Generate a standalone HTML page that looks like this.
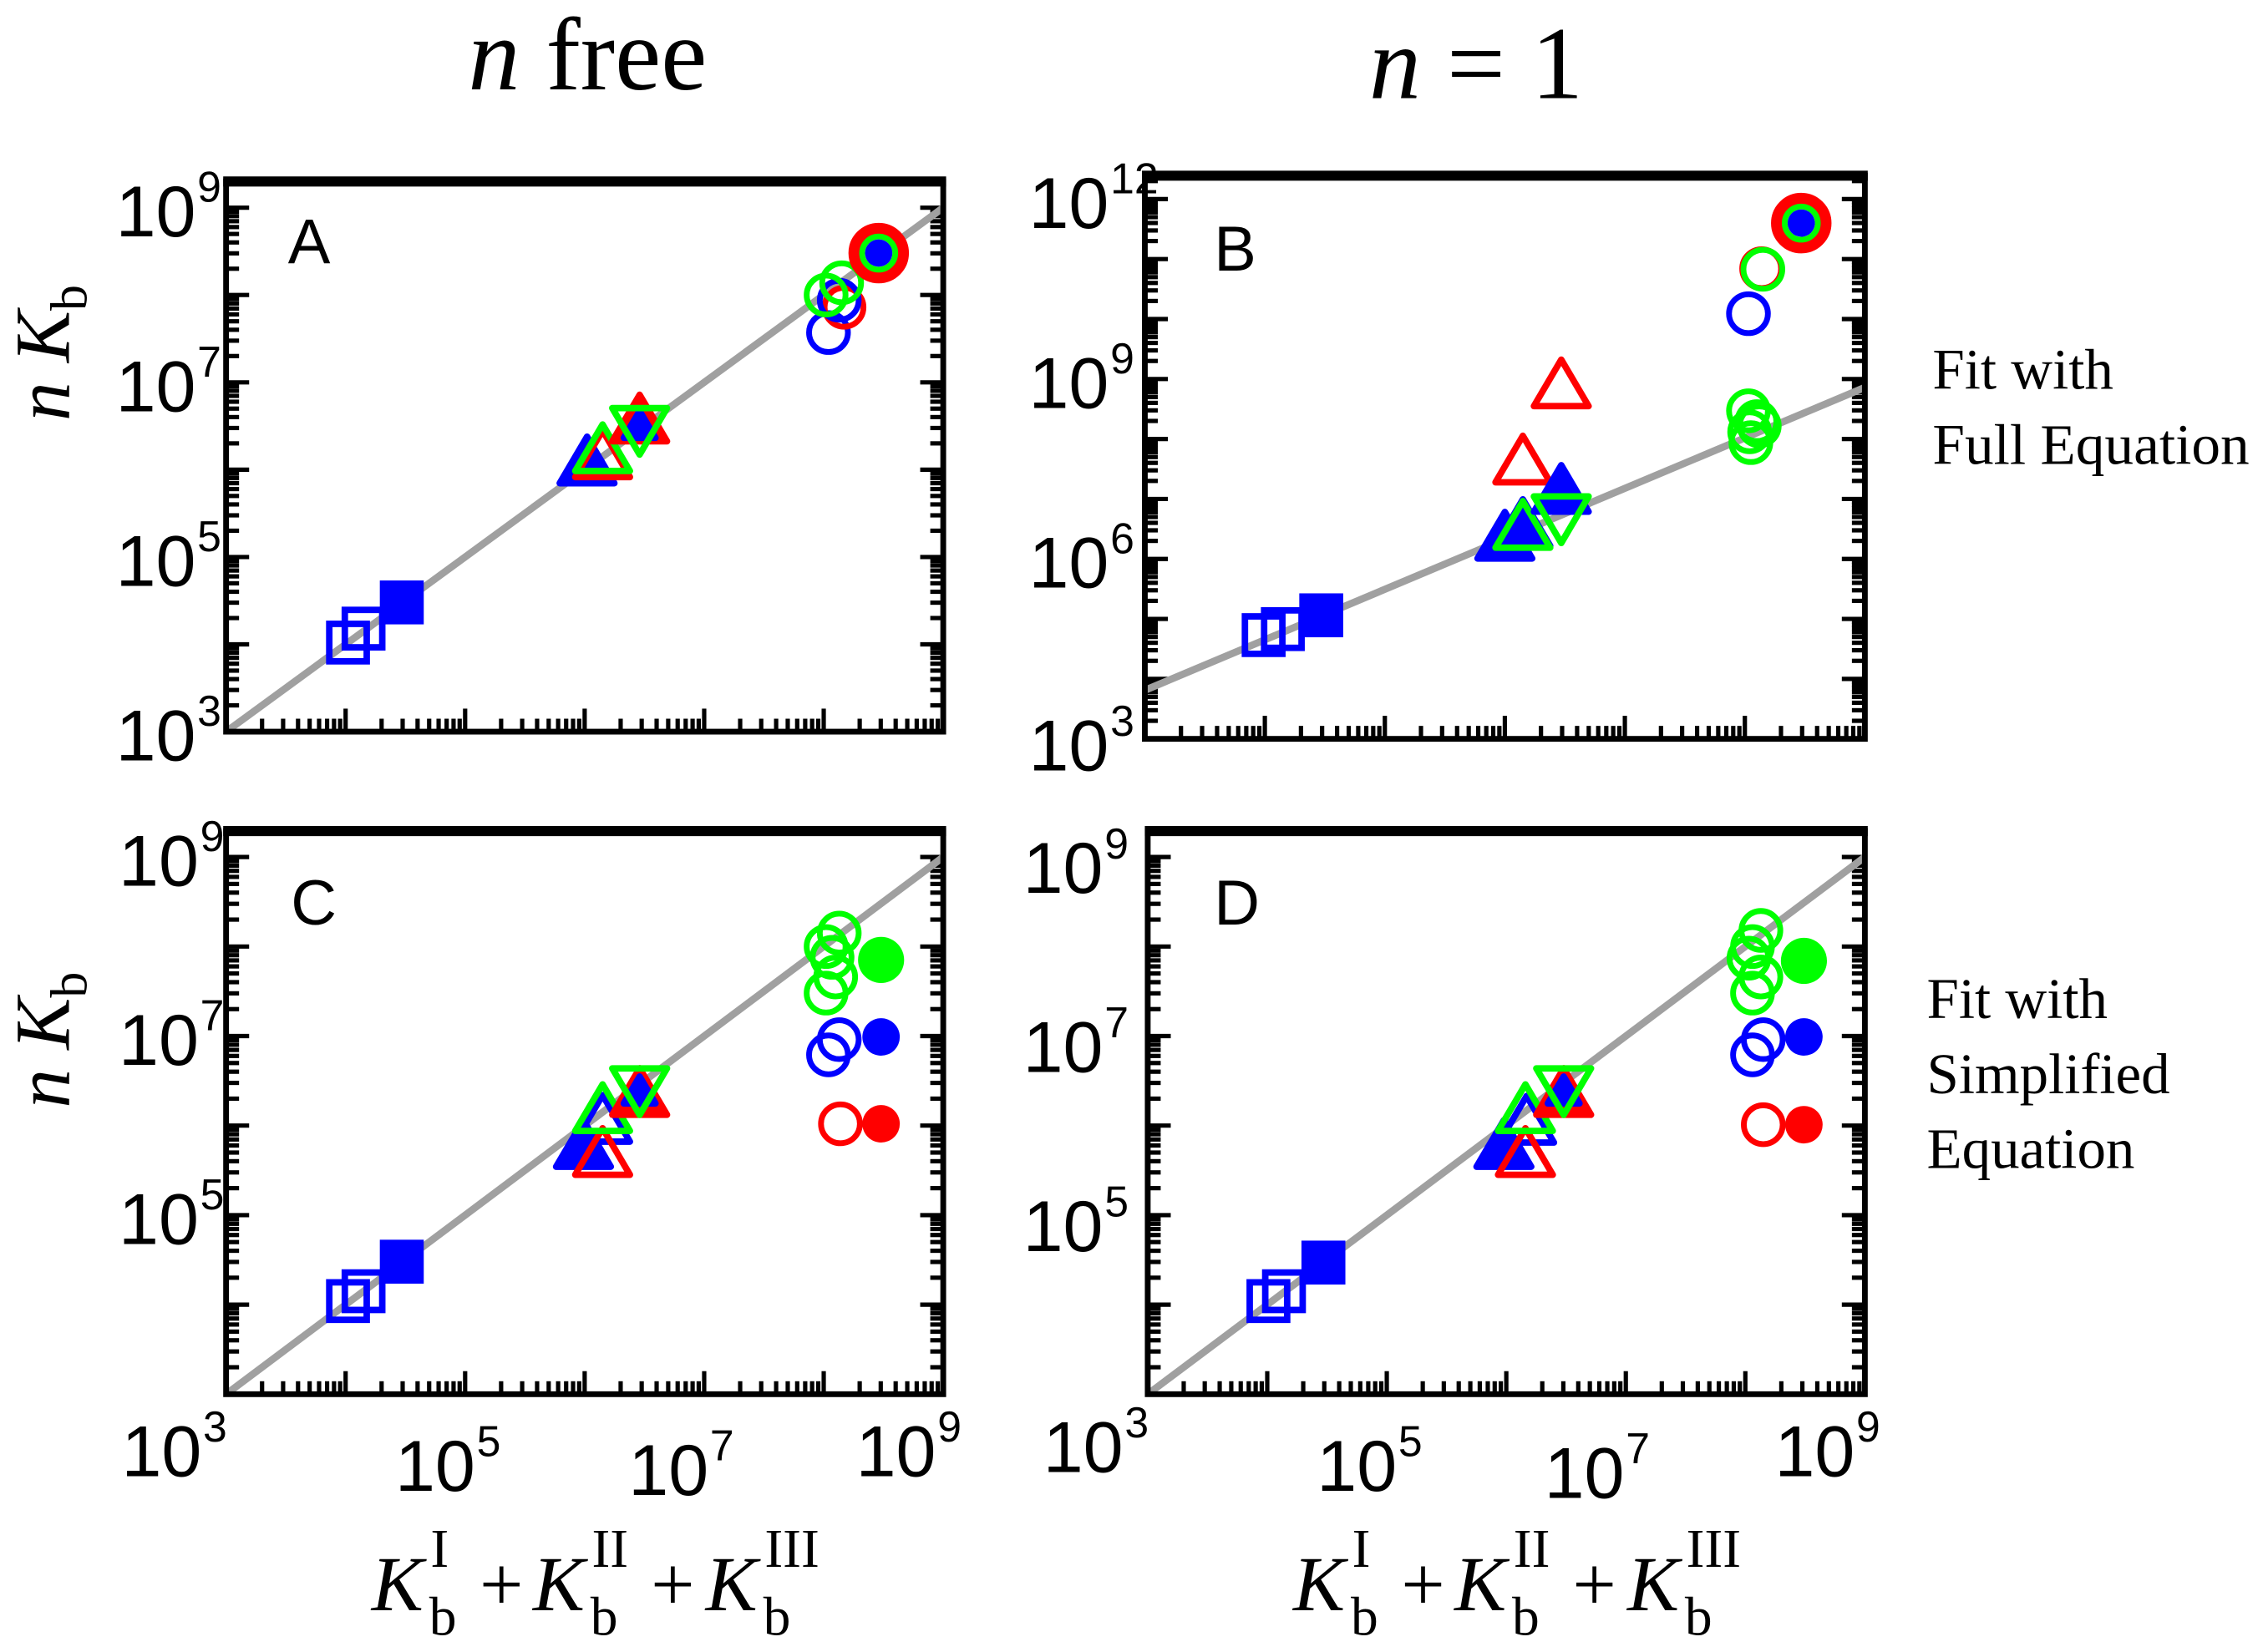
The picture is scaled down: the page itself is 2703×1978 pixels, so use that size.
<!DOCTYPE html>
<html><head><meta charset="utf-8"><style>
html,body{margin:0;padding:0;background:#fff;}
svg{display:block;}
.tk{font-family:"Liberation Sans",sans-serif;}
.sf{font-family:"Liberation Serif",serif;}
</style></head><body>
<svg id="fig" xmlns="http://www.w3.org/2000/svg" width="2703" height="1978" viewBox="0 0 1568 1147" preserveAspectRatio="none">
<rect x="0" y="0" width="1568" height="1147" fill="#fff"/>
<text class="sf" x="408" y="62" font-size="72" text-anchor="middle"><tspan font-style="italic">n</tspan> free</text>
<text class="sf" x="1025" y="68" font-size="72" text-anchor="middle"><tspan font-style="italic">n</tspan> = 1</text>
<g class="sf" font-size="40">
<text x="1342" y="270">Fit with</text>
<text x="1342" y="322" textLength="220" lengthAdjust="spacingAndGlyphs">Full Equation</text>
</g>
<g class="sf" font-size="40">
<text x="1338" y="707">Fit with</text>
<text x="1338" y="759">Simplified</text>
<text x="1338" y="811">Equation</text>
</g>
<g id="layer"></g>
</svg>
<script>
// ---- Data (log10 values) ----
const panelA_logX = [4.02,4.15,4.47, 6.02,6.15,6.15,6.46,6.46,6.46, 8.04,8.17,8.13,8.02,8.15,8.46];
const panelA_logY = [4.02,4.18,4.48, 6.08,6.15,6.22,6.56,6.50,6.47, 7.57,7.86,7.94,8.00,8.14,8.48];
const panelA_marker = ['so:b','so:b','sf:b','tf:b','to:r','to:g','tf:r','tfs:b','td:g','co:b','co:r','co:b','co:g','co:g','big'];

const panelB_logX = [3.99,4.15,4.47, 6.00,6.15,6.15,6.15,6.47,6.47,6.47, 8.03,8.14,8.15,8.03,8.10,8.04,8.12,8.05,8.47];
const panelB_logY = [4.73,4.83,5.06, 6.35,6.56,6.53,7.62,8.89,7.13,6.70, 10.09,10.84,10.83,8.47,8.29,8.12,8.22,7.94,11.6];
const panelB_marker = ['so:b','so:b','sf:b','tf:b','tf:b','to:g','to:r','to:r','tf:b','td:g','co:b','co:r','co:g','co:g','co:g','co:g','co:g','co:g','big'];

const panelC_logX = [4.02,4.15,4.47, 5.99,6.15,6.15,6.15,6.46,6.46,6.46, 8.02,8.13,8.07,8.02,8.10,8.48, 8.04,8.13,8.48, 8.14,8.48];
const panelC_logY = [4.04,4.15,4.48, 5.77,6.05,5.68,6.17,6.35,6.38,6.41, 8.00,8.15,7.88,7.48,7.66,7.85, 6.79,6.96,6.99, 6.02,6.02];
const panelC_marker = ['so:b','so:b','sf:b','tf:b','to:b','to:r','to:g','tf:r','tfs:b','td:g','co:g','co:g','co:g','co:g','co:g','cfL:g','co:b','co:b','cf:b','co:r','cf:r'];

const panelD_logX = [4.01,4.14,4.47, 5.98,6.17,6.16,6.16,6.48,6.48,6.48, 8.06,8.13,8.03,8.06,8.13,8.49, 8.06,8.15,8.49, 8.15,8.49];
const panelD_logY = [4.04,4.15,4.47, 5.77,6.04,5.68,6.17,6.35,6.38,6.41, 8.00,8.18,7.87,7.48,7.66,7.84, 6.79,6.96,6.99, 6.01,6.01];
const panelD_marker = panelC_marker.slice();

const fitA_logX = [3,9], fitA_logY = [3,9];
const fitB_logX = [3,9], fitB_logY = [3.81,8.86];
const fitC_logX = [3,9], fitC_logY = [3,9];
const fitD_logX = [3,9], fitD_logY = [3,9];

const yTicksA = [3,5,7,9], yTicksB = [3,6,9,12], yTicksC = [5,7,9], yTicksD = [5,7,9];
const xTicksCD = [3,5,7,9];

const NS = 'http://www.w3.org/2000/svg';
const layer = document.getElementById('layer');
const COL = {b:'#0000ff', r:'#ff0000', g:'#00ff00'};
function mk(tag, attrs, parent){ const e=document.createElementNS(NS,tag); for(const k in attrs) e.setAttribute(k,attrs[k]); (parent||layer).appendChild(e); return e; }

function makePanel(cfg){
  const g = mk('g',{});
  
  
  const sx = v => cfg.l + (v - cfg.x0)/(cfg.x1 - cfg.x0)*(cfg.r - cfg.l);
  const sy = v => cfg.b - (v - cfg.y0)/(cfg.y1 - cfg.y0)*(cfg.b - cfg.t);
  const tg = mk('g',{stroke:'#000','stroke-width':3},g);
  
  
  for(let d=Math.floor(cfg.x0); d<cfg.x1; d++){
    for(let m=1;m<10;m++){
      const v=d+Math.log10(m); if(v<cfg.x0||v>cfg.x1) continue;
      const x=sx(v), len = m===1?16:9;
      mk('line',{x1:x,y1:cfg.b,x2:x,y2:cfg.b-len},tg);
    }
  }
  for(let d=Math.floor(cfg.y0); d<cfg.y1; d++){
    for(let m=1;m<10;m++){
      const v=d+Math.log10(m); if(v<=cfg.y0||v>cfg.y1) continue;
      const y=sy(v), len = m===1?16:9;
      mk('line',{x1:cfg.l,y1:y,x2:cfg.l+len,y2:y},tg);
      mk('line',{x1:cfg.r,y1:y,x2:cfg.r-len,y2:y},tg);
    }
  }
  const fl = mk('line',{x1:sx(cfg.fx[0]),y1:sy(cfg.fy[0]),x2:sx(cfg.fx[1]),y2:sy(cfg.fy[1]),stroke:'#a0a0a0','stroke-width':5},g);
  
  
  for(let i=0;i<cfg.xs.length;i++){
    const x=sx(cfg.xs[i]), y=sy(cfg.ys[i]), code=cfg.ms[i];
    const [shape,c] = code.split(':'); const col = COL[c];
    let el;
    if(shape==='big'){
      el = mk('g',{},g);
      mk('circle',{cx:x,cy:y,r:17,fill:'none',stroke:COL.r,'stroke-width':8},el);
      mk('circle',{cx:x,cy:y,r:11.5,fill:'none',stroke:COL.g,'stroke-width':4},el);
      mk('circle',{cx:x,cy:y,r:9.5,fill:COL.b},el);
    } else if(shape==='so'||shape==='sf'){
      el = mk('rect',{x:x-13,y:y-13,width:26,height:26,fill:shape==='sf'?col:'none',stroke:col,'stroke-width':4.5},g);
    } else if(shape==='co'){
      el = mk('circle',{cx:x,cy:y,r:13.5,fill:'none',stroke:col,'stroke-width':4},g);
    } else if(shape==='cf'){
      el = mk('circle',{cx:x,cy:y,r:13,fill:col},g);
    } else if(shape==='cfL'){
      el = mk('circle',{cx:x,cy:y,r:16,fill:col},g);
    } else {
      const s = shape==='tfs'?11:19;
      const pts = shape==='td'
        ? [[x-s,y-s*0.75],[x+s,y-s*0.75],[x,y+s*0.95]]
        : [[x,y-s*0.95],[x+s,y+s*0.75],[x-s,y+s*0.75]];
      const filled = shape==='tf'||shape==='tfs';
      el = mk('polygon',{points:pts.map(p=>p.join(',')).join(' '),fill:filled?col:'none',stroke:col,'stroke-width':4.5,'stroke-linejoin':'round'},g);
    }
    
    
  }
  const fr = mk('rect',{x:cfg.l,y:cfg.t,width:cfg.r-cfg.l,height:cfg.b-cfg.t,fill:'none',stroke:'#000','stroke-width':4},g);
  
  
  mk('line',{x1:cfg.l-2,y1:cfg.t,x2:cfg.r+2,y2:cfg.t,stroke:'#000','stroke-width':7},g);
  const lt = mk('text',{x:cfg.lx,y:cfg.ly,'font-size':44,class:'tk'},g);
  lt.textContent = cfg.id;
  
  
  cfg.yt.forEach((v,k)=>{
    const y = sy(v) + (cfg.yoff ? cfg.yoff[k] : 20);
    const tl = mk('text',{x:cfg.ylx,y:y,'font-size':50,'text-anchor':'end',class:'tk'},g);
    tl.textContent='10';
    
    
    const ex = mk('text',{x:cfg.ylx+1,y:y-24,'font-size':30,class:'tk'},g);
    ex.textContent=String(v);
    
    
  });
  if(cfg.xlab){
    const xpos = cfg.xlab.pos, xb = cfg.xlab.base;
    xTicksCD.forEach((v,k)=>{
      const tl = mk('text',{x:xpos[k],y:xb[k],'font-size':50,'text-anchor':'end',class:'tk'},g);
      tl.textContent='10';
      
      
      const ex = mk('text',{x:xpos[k]+1,y:xb[k]-24,'font-size':30,class:'tk'},g);
      ex.textContent=String(v);
      
      
    });
  }
}

makePanel({id:'A',l:157,r:655,t:126,b:508,x0:3,x1:9,y0:3,y1:9.3,xs:panelA_logX,ys:panelA_logY,ms:panelA_marker,fx:fitA_logX,fy:fitA_logY,yt:yTicksA,ylx:136,yoff:[20,20,20,20],lx:200,ly:183});
makePanel({id:'B',l:795,r:1295,t:122,b:513,x0:3,x1:9,y0:3,y1:12.39,xs:panelB_logX,ys:panelB_logY,ms:panelB_marker,fx:fitB_logX,fy:fitB_logY,yt:yTicksB,ylx:770,yoff:[22,20,20,20],lx:843,ly:188});
makePanel({id:'C',l:157,r:655,t:577,b:968,x0:3,x1:9,y0:3,y1:9.29,xs:panelC_logX,ys:panelC_logY,ms:panelC_marker,fx:fitC_logX,fy:fitC_logY,yt:yTicksC,ylx:138,yoff:[20,20,20],lx:202,ly:642,
  xlab:{pos:[140,330,492,650],base:[1025,1035,1038,1025]}});
makePanel({id:'D',l:797,r:1295,t:577,b:968,x0:3,x1:9,y0:3,y1:9.29,xs:panelD_logX,ys:panelD_logY,ms:panelD_marker,fx:fitD_logX,fy:fitD_logY,yt:yTicksD,ylx:766,yoff:[25,25,25],lx:843,ly:642,
  xlab:{pos:[780,970,1128,1288],base:[1022,1035,1040,1025]}});

[[245,'y-axis-title-top'],[722,'y-axis-title-bottom']].forEach(([cy,nm])=>{
  const t = mk('text',{transform:`translate(48,${cy}) rotate(-90)`,'font-size':54,'text-anchor':'middle',class:'sf'});
  t.innerHTML = '<tspan font-style="italic">n K</tspan><tspan font-size="36" dy="12">b</tspan>';
  
  
});
[[0,'x-axis-title-left'],[640,'x-axis-title-right']].forEach(([dx,nm])=>{
  const g = mk('g',{class:'sf',transform:`translate(${dx},0)`});
  
  
  const parts = [[258,'I'],[370,'II'],[490,'III']];
  parts.forEach(([x,sup])=>{
    mk('text',{x:x,y:1118,'font-size':54,'font-style':'italic'},g).textContent='K';
    mk('text',{x:x+40,y:1135,'font-size':38},g).textContent='b';
    mk('text',{x:x+41,y:1088,'font-size':38},g).textContent=sup;
  });
  mk('text',{x:333,y:1118,'font-size':54},g).textContent='+';
  mk('text',{x:452,y:1118,'font-size':54},g).textContent='+';
});
</script>
</body></html>
